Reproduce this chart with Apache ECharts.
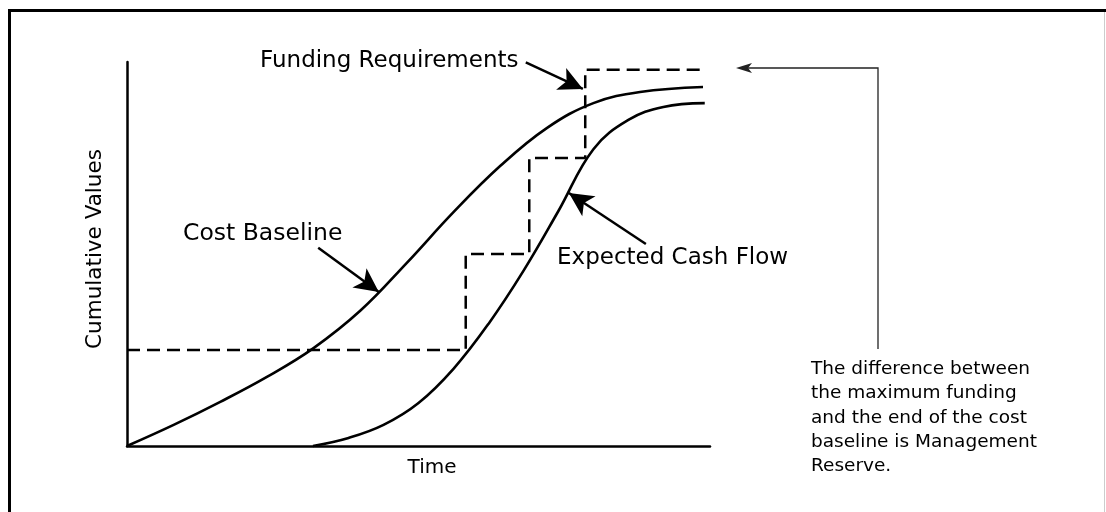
<!DOCTYPE html>
<html>
<head>
<meta charset="utf-8">
<script src="https://cdn.jsdelivr.net/npm/echarts@6/dist/echarts.min.js"></script>
<style>
  html, body { margin: 0; padding: 0; background: #fff; }
  #chart { width: 1106px; height: 512px; }
</style>
</head>
<body>
<div id="chart"></div>
<script>
// curves, x = time (0-100), y = cumulative value (0-100)
const costBaseline = [
  [0, 0], [8, 5.5], [16, 11.5], [24, 18], [32, 25.5], [40, 35.2], [48, 47.7],
  [56, 60.9], [64, 72.9], [72, 82.8], [80, 89.3], [88, 92.2], [98.8, 93.5]
]
const expectedCashFlow = [
  [31.9, 0], [38, 2.1], [44, 5.5], [50, 11.2], [56, 20.1], [62, 31.8],
  [68, 45.6], [74, 61.2], [80, 77.3], [86, 84.9], [92, 88.3], [99.1, 89.3]
]
const fundingSteps = [
  [0, 25], [58.1, 25], [58.1, 50], [69, 50], [69, 75], [78.6, 75], [78.6, 98], [98.8, 98]
]
// arrows pointing at the series: [from, to]
const fundingArrow = [[68.4, 99.9], [78.2, 93]]
const baselineArrow = [[32.8, 51.6], [43.2, 40.1]]
const cashFlowArrow = [[89, 52.6], [75.8, 65.9]]

const noteLines = [
  'The difference between',
  'the maximum funding',
  'and the end of the cost',
  'baseline is Management',
  'Reserve.'
]

const font = 'DejaVu Sans'

function arrow(pair) {
  return {
    silent: true,
    symbol: ['none', 'arrow'],
    symbolSize: [18, 24],
    label: { show: false },
    emphasis: { disabled: true },
    lineStyle: { color: '#000', width: 2.5, type: 'solid' },
    data: [[{ coord: pair[0] }, { coord: pair[1] }]]
  }
}

const chart = echarts.init(document.getElementById('chart'))

chart.setOption({
  backgroundColor: '#fff',
  animation: false,
  grid: { left: 127, top: 62, width: 583, height: 384, containLabel: false },
  xAxis: {
    type: 'value',
    min: 0,
    max: 100,
    name: 'Time',
    nameLocation: 'middle',
    nameGap: 12,
    nameTextStyle: { fontFamily: font, fontSize: 20, color: '#000', padding: [0, 0, 0, 27] },
    axisLine: { show: true, lineStyle: { color: '#000', width: 2.5 } },
    axisTick: { show: false },
    axisLabel: { show: false },
    splitLine: { show: false }
  },
  yAxis: {
    type: 'value',
    min: 0,
    max: 100,
    name: 'Cumulative Values',
    nameLocation: 'middle',
    nameGap: 21,
    nameTextStyle: { fontFamily: font, fontSize: 21.5, color: '#000', padding: [0, 0, 0, 10] },
    axisLine: { show: true, lineStyle: { color: '#000', width: 2.5 } },
    axisTick: { show: false },
    axisLabel: { show: false },
    splitLine: { show: false }
  },
  series: [
    {
      name: 'Cost Baseline',
      type: 'line',
      clip: false,
      smooth: 0.4,
      showSymbol: false,
      silent: true,
      lineStyle: { color: '#000', width: 2.6 },
      data: costBaseline,
      markLine: arrow(baselineArrow)
    },
    {
      name: 'Expected Cash Flow',
      type: 'line',
      clip: false,
      smooth: 0.4,
      showSymbol: false,
      silent: true,
      lineStyle: { color: '#000', width: 2.6 },
      data: expectedCashFlow,
      markLine: arrow(cashFlowArrow)
    },
    {
      name: 'Funding Requirements',
      type: 'line',
      clip: false,
      showSymbol: false,
      silent: true,
      lineStyle: { color: '#000', width: 2.5, type: [13, 7] },
      data: fundingSteps,
      markLine: arrow(fundingArrow)
    }
  ],
  graphic: [
    // frame
    { type: 'rect', shape: { x: 8, y: 9, width: 3, height: 503 }, style: { fill: '#000' } },
    { type: 'rect', shape: { x: 8, y: 9, width: 1098, height: 3 }, style: { fill: '#000' } },
    { type: 'rect', shape: { x: 1104, y: 12, width: 1, height: 500 }, style: { fill: '#ccc' } },
    // management reserve callout
    {
      type: 'polyline',
      shape: { points: [[878, 349], [878, 68], [745, 68]] },
      style: { stroke: '#222', lineWidth: 1.3, fill: null }
    },
    {
      type: 'polygon',
      shape: { points: [[736, 68], [752, 63], [748, 68], [752, 73]] },
      style: { fill: '#222' }
    },
    {
      type: 'text', left: 811, top: 357,
      style: {
        text: noteLines.join('\n'),
        font: '18.5px "DejaVu Sans"',
        lineHeight: 24.3,
        fill: '#000'
      }
    },
    {
      type: 'text', x: 260, y: 61,
      style: { text: 'Funding Requirements', font: '23px "DejaVu Sans"', fill: '#000', verticalAlign: 'middle' }
    },
    {
      type: 'text', x: 183, y: 234,
      style: { text: 'Cost Baseline', font: '23.5px "DejaVu Sans"', fill: '#000', verticalAlign: 'middle' }
    },
    {
      type: 'text', x: 557, y: 258,
      style: { text: 'Expected Cash Flow', font: '23px "DejaVu Sans"', fill: '#000', verticalAlign: 'middle' }
    }
  ]
})
</script>
</body>
</html>
